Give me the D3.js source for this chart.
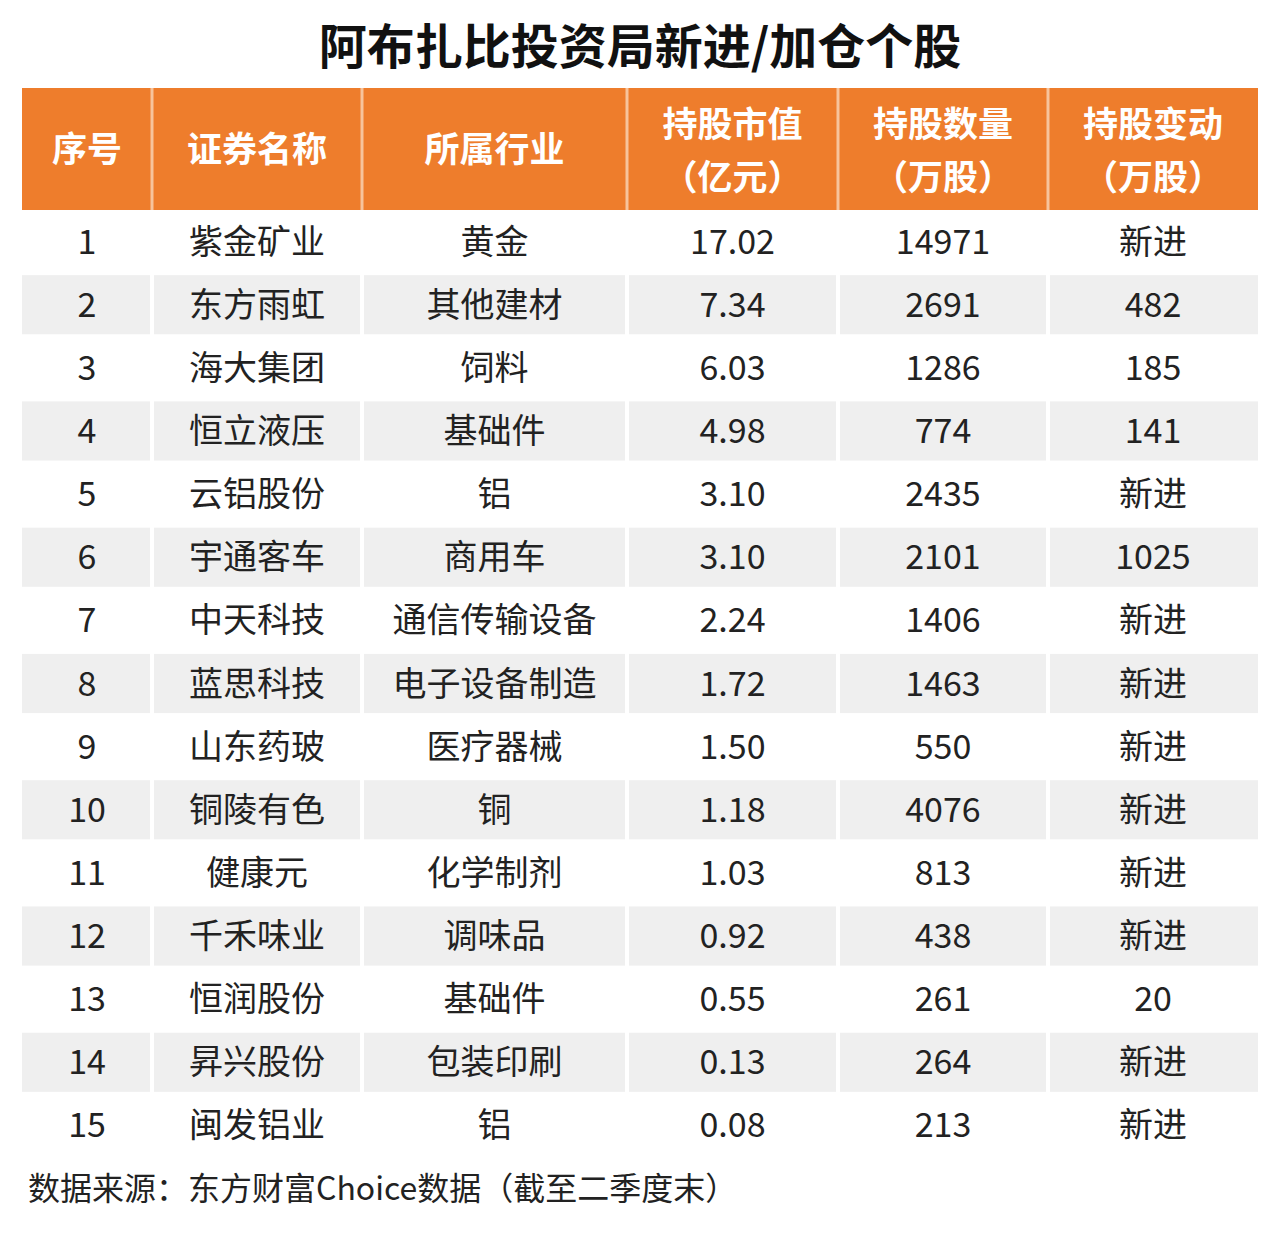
<!DOCTYPE html>
<html><head><meta charset="utf-8">
<script src="https://cdn.jsdelivr.net/npm/d3@7"></script>
<style>body{margin:0;background:#fff}</style>
</head><body>
<svg id="c" width="1280" height="1240"></svg>
<script>
const title = "阿布扎比投资局新进/加仓个股";
const headers = [["序号"], ["证券名称"], ["所属行业"], ["持股市值", "（亿元）"], ["持股数量", "（万股）"], ["持股变动", "（万股）"]];
const names = ["紫金矿业","东方雨虹","海大集团","恒立液压","云铝股份","宇通客车","中天科技","蓝思科技","山东药玻","铜陵有色","健康元","千禾味业","恒润股份","昇兴股份","闽发铝业"];
const industries = ["黄金","其他建材","饲料","基础件","铝","商用车","通信传输设备","电子设备制造","医疗器械","铜","化学制剂","调味品","基础件","包装印刷","铝"];
const marketValue = ["17.02","7.34","6.03","4.98","3.10","3.10","2.24","1.72","1.50","1.18","1.03","0.92","0.55","0.13","0.08"];
const shares = [14971,2691,1286,774,2435,2101,1406,1463,550,4076,813,438,261,264,213];
const change = ["新进","482","185","141","新进","1025","新进","新进","新进","新进","新进","新进","20","新进","新进"];
const footer = "数据来源：东方财富Choice数据（截至二季度末）";

const colEdges = [22,152,362,627,838,1048,1258];
const font = "'Noto Sans CJK SC', 'Noto Sans', sans-serif";
const svg = d3.select("#c");

svg.append("text").attr("x",640).attr("y",64).attr("text-anchor","middle")
  .attr("font-family",font).attr("font-weight",700).attr("font-size",48).attr("fill","#111").text(title);

const x = i => colEdges[i];
const y = d3.scaleBand().domain(d3.range(15)).range([210,1157]);

// header
svg.append("rect").attr("x",22).attr("y",88).attr("width",1236).attr("height",122).attr("fill","#ee7d2c");
headers.forEach((h,i)=>{
  const cx=(x(i)+x(i+1))/2;
  if(i>0) svg.append("rect").attr("x",x(i)-1.5).attr("y",88).attr("width",3).attr("height",122).attr("fill","#f7c49c");
  h.forEach((t,k)=>{
    svg.append("text").attr("x",cx).attr("y",h.length===1?162:(137+k*53)).attr("text-anchor","middle")
      .attr("font-family",font).attr("font-weight",700).attr("font-size",35).attr("fill","#fff").text(t);
  });
});

const rows = names.map((n,i)=>[String(i+1),n,industries[i],marketValue[i],String(shares[i]),change[i]]);
rows.forEach((r,i)=>{
  if(i%2===1){
    r.forEach((_,j)=>svg.append("rect").attr("x",x(j)+(j?2:0)).attr("y",y(i)+2)
      .attr("width",x(j+1)-x(j)-(j?2:0)-(j<5?2:0)).attr("height",y.bandwidth()-4).attr("fill","#efefef"));
  }
  r.forEach((t,j)=>{
    svg.append("text").attr("x",(x(j)+x(j+1))/2).attr("y",y(i)+y.bandwidth()/2+12).attr("text-anchor","middle")
      .attr("font-family",font).attr("font-size",34).attr("fill","#222").text(t);
  });
});

svg.append("text").attr("x",28).attr("y",1200).attr("font-family",font).attr("font-size",32).attr("fill","#222").text(footer);
</script>
</body></html>
